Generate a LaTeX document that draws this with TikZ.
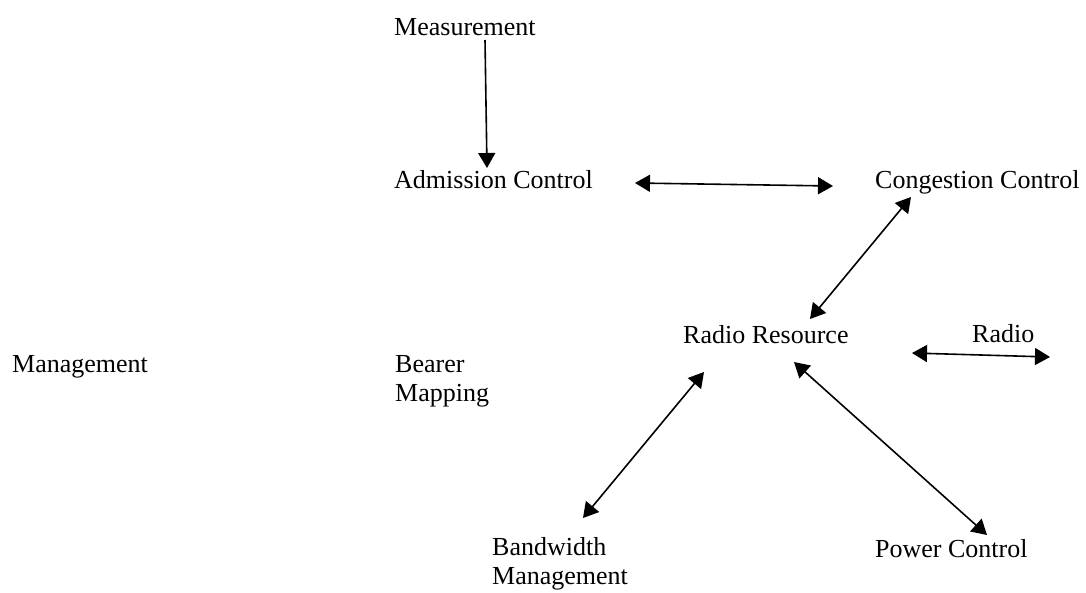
\documentclass[tikz,border=0pt]{standalone}
\usepackage{fontspec}
\setmainfont{Liberation Serif}
\usetikzlibrary{arrows.meta}
\begin{document}
\begin{tikzpicture}[x=1pt,y=-1pt,
  lbl/.style={anchor=base west, inner sep=0pt, font=\fontsize{26}{29.5}\selectfont},
  lbltwo/.style={anchor=north west, inner sep=0pt, align=left, font=\fontsize{26}{29.5}\selectfont},
  tip/.tip={Triangle[length=15pt,width=17pt]},
  both/.style={line width=1.6pt, tip-tip},
  oneway/.style={line width=1.6pt, -tip}]
\useasboundingbox (0,0) rectangle (1086,592);
% labels
\node[lbl] (meas) at (394,35) {Measurement};
\node[lbl] (adm) at (394,188) {Admission Control};
\node[lbl] (cong) at (875,188) {Congestion Control};
\node[lbl] (rr) at (683,343) {Radio Resource};
\node[lbl] (radio) at (972,342) {Radio};
\node[lbl] (mgmt) at (12,372) {Management};
\node[lbltwo] (bearer) at (395,354.8) {Bearer\\Mapping};
\node[lbltwo] (bw) at (492,537.2) {Bandwidth\\Management};
\node[lbl] (pc) at (875,557) {Power Control};
% connector ends
\coordinate (m1) at (485,40);
\coordinate (m2) at (487,168);
\coordinate (a1) at (635,183);
\coordinate (a2) at (833,186);
\coordinate (c1) at (911,197);
\coordinate (c2) at (810,319);
\coordinate (r1) at (912,353);
\coordinate (r2) at (1050,357);
\coordinate (b1) at (704,372);
\coordinate (b2) at (583,518);
\coordinate (p1) at (794,362);
\coordinate (p2) at (987,535);
% connectors
\draw[oneway] (m1) -- (m2);
\draw[both] (a1) -- (a2);
\draw[both] (c1) -- (c2);
\draw[both] (r1) -- (r2);
\draw[both] (b1) -- (b2);
\draw[both] (p1) -- (p2);
\end{tikzpicture}
\end{document}
